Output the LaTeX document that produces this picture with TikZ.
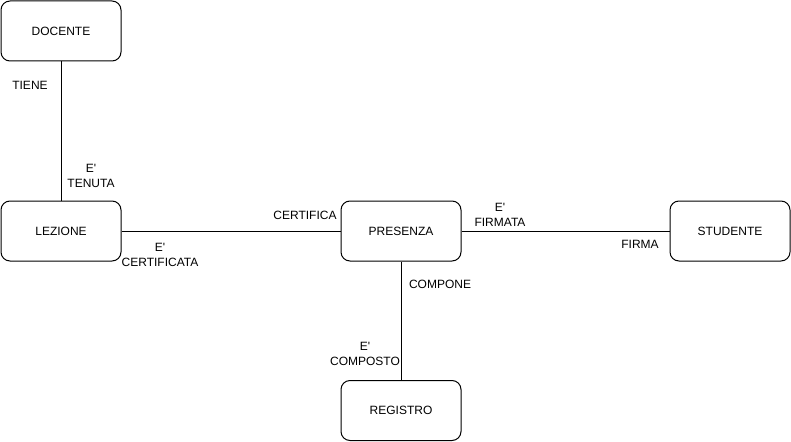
\documentclass[tikz,border=0pt]{standalone}
\usepackage{fontspec}
\setmainfont{Liberation Sans}[Ligatures=TeXOff]
\begin{document}
\begin{tikzpicture}[x=1pt,y=-1pt,
  entity/.style={draw, line width=1pt, rounded corners=9pt, minimum width=120pt, minimum height=60pt, inner sep=0pt, font=\fontsize{12}{14}\selectfont},
  lbl/.style={inner sep=0pt, align=center, font=\fontsize{12}{15}\selectfont},
  link/.style={line width=1pt}]
\useasboundingbox (0,0) rectangle (791,441);
\node[entity] (doc) at (61,31) {DOCENTE};
\node[entity] (lez) at (61,231) {LEZIONE};
\node[entity] (pre) at (401,231) {PRESENZA};
\node[entity] (stu) at (730,231) {STUDENTE};
\node[entity] (reg) at (401,410.5) {REGISTRO};
\draw[link] (doc) -- (lez);
\draw[link] (lez) -- (pre);
\draw[link] (pre) -- (stu);
\draw[link] (pre) -- (reg);
\node[lbl] (l1) at (30,85) {TIENE};
\node[lbl] (l2) at (91,176) {E'\\TENUTA};
\node[lbl] (l3) at (305,215) {CERTIFICA};
\node[lbl] (l4) at (160,255) {E'\\CERTIFICATA};
\node[lbl] (l5) at (500,215) {E'\\FIRMATA};
\node[lbl] (l6) at (640,244) {FIRMA};
\node[lbl] (l7) at (440,284) {COMPONE};
\node[lbl] (l8) at (365,354) {E'\\COMPOSTO};
\end{tikzpicture}
\end{document}
